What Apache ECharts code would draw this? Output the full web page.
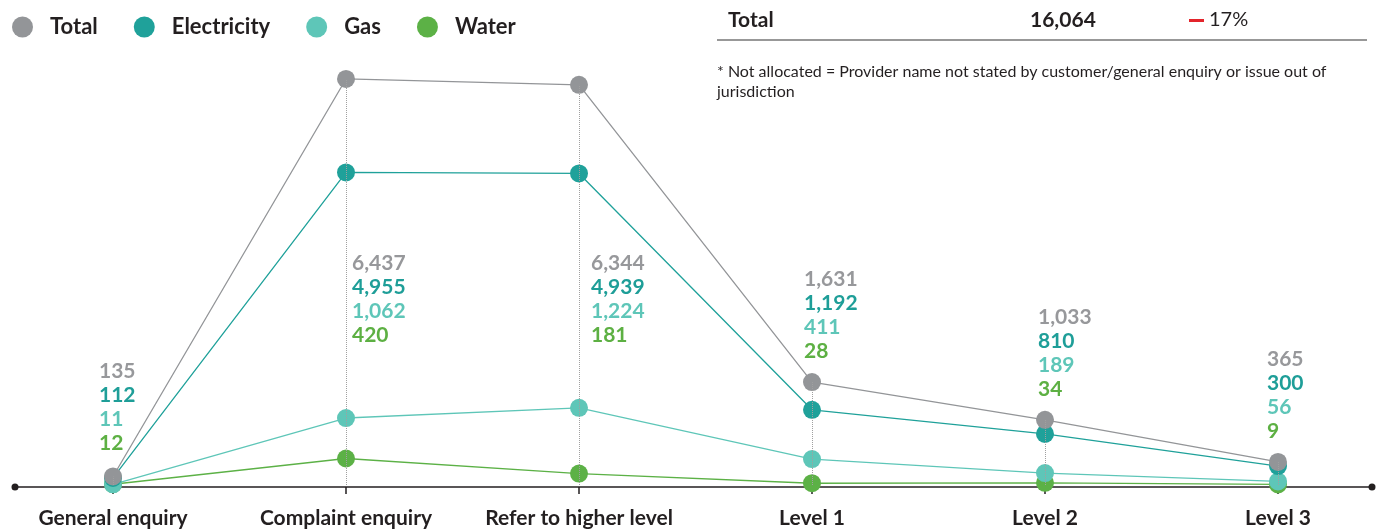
<!DOCTYPE html>
<html>
<head>
<meta charset="utf-8">
<script src="https://cdn.jsdelivr.net/npm/echarts@6/dist/echarts.min.js"></script>
<style>
  html, body { margin: 0; padding: 0; background: #fff; }
  #chart { width: 1382px; height: 529px; }
</style>
</head>
<body>
<div id="chart"></div>
<script>
// categories and values
var categories = ["General enquiry", "Complaint enquiry", "Refer to higher level", "Level 1", "Level 2", "Level 3"];
var total = [135, 6437, 6344, 1631, 1033, 365];
var electricity = [112, 4955, 4939, 1192, 810, 300];
var gas = [11, 1062, 1224, 411, 189, 56];
var water = [12, 420, 181, 28, 34, 9];

var FONT = "Lato";
var INK = "#231f20";
var colors = {
    total: "#939598",
    electricity: "#1fa19a",
    gas: "#5ec6b8",
    water: "#5cb146"
};

// where each value block sits relative to its total point
var labelPlace = [
    { position: "top", distance: 12, offset: [-14, 0] },
    { position: "bottom", distance: 163, offset: [6, 0] },
    { position: "bottom", distance: 157, offset: [12, 0] },
    { position: "top", distance: 10, offset: [-8, 0] },
    { position: "top", distance: 10, offset: [-7, 0] },
    { position: "top", distance: 10, offset: [-11, 0] }
];

function fmt(v) {
    return v.toLocaleString("en-US");
}

var chart = echarts.init(document.getElementById("chart"));

var numStyle = function (c) {
    return { color: c, fontSize: 21, fontWeight: "bold", fontFamily: FONT, lineHeight: 24 };
};

var totalData = total.map(function (v, i) {
    var p = labelPlace[i];
    return {
        value: v,
        label: {
            show: true,
            position: p.position,
            distance: p.distance,
            offset: p.offset,
            align: "left",
            formatter: "{t|" + fmt(total[i]) + "}\n{e|" + fmt(electricity[i]) + "}\n{g|" + fmt(gas[i]) + "}\n{w|" + fmt(water[i]) + "}",
            rich: {
                t: numStyle("#97989b"),
                e: numStyle("#1e9e98"),
                g: numStyle("#5ec6b8"),
                w: numStyle("#5db043")
            }
        }
    };
});

function lineSeries(name, data, color) {
    return {
        name: name,
        type: "line",
        xAxisIndex: 0,
        yAxisIndex: 0,
        data: data,
        symbol: "circle",
        symbolSize: 18,
        itemStyle: { color: color },
        lineStyle: { color: color, width: 1.3 },
        label: { show: false },
        emphasis: { disabled: true },
        z: 3
    };
}

var option = {
    animation: false,
    textStyle: { fontFamily: FONT },
    legend: {
        data: ["Total", "Electricity", "Gas", "Water"],
        left: 7,
        top: 11,
        icon: "circle",
        itemWidth: 21,
        itemHeight: 21,
        itemGap: 36,
        textStyle: {
            color: INK,
            fontSize: 22,
            fontWeight: "bold",
            fontFamily: FONT,
            padding: [0, 0, 0, 12]
        },
        selectedMode: false
    },
    grid: [
        { left: 113, right: 104, top: 75, bottom: 44 },
        { left: 15, right: 10, top: 75, bottom: 42 }
    ],
    xAxis: [
        {
            type: "category",
            gridIndex: 0,
            data: categories,
            boundaryGap: false,
            offset: 2,
            axisLine: { show: false, onZero: false },
            axisTick: { show: true, length: 7, alignWithLabel: true, lineStyle: { color: INK, width: 1.5 } },
            axisLabel: {
                color: INK,
                fontSize: 21,
                fontWeight: "bold",
                fontFamily: FONT,
                margin: 21,
                interval: 0
            },
            splitLine: { show: false }
        },
        {
            type: "value",
            gridIndex: 1,
            min: 0,
            max: 1,
            axisLine: {
                show: true,
                onZero: false,
                symbol: ["circle", "circle"],
                symbolSize: [7, 7],
                lineStyle: { color: INK, width: 1.5 }
            },
            axisTick: { show: false },
            axisLabel: { show: false },
            splitLine: { show: false }
        }
    ],
    yAxis: [
        { type: "value", gridIndex: 0, min: 0, max: 6500, show: false },
        { type: "value", gridIndex: 1, min: 0, max: 1, show: false }
    ],
    series: [
        {
            name: "guide",
            type: "line",
            xAxisIndex: 0,
            yAxisIndex: 0,
            data: total,
            symbol: "none",
            lineStyle: { opacity: 0 },
            silent: true,
            z: 1,
            markLine: {
                silent: true,
                symbol: ["none", "none"],
                label: { show: false },
                lineStyle: { color: "#a0a0a0", type: "dotted", width: 1 },
                data: total.map(function (v, i) {
                    return [{ coord: [i, 0] }, { coord: [i, v] }];
                })
            }
        },
        lineSeries("Water", water, colors.water),
        lineSeries("Gas", gas, colors.gas),
        lineSeries("Electricity", electricity, colors.electricity),
        (function () {
            var s = lineSeries("Total", totalData, colors.total);
            s.label = { show: true };
            return s;
        })()
    ],
    graphic: [
        { type: "text", left: 728, top: 10, style: { text: "Total", fill: INK, font: "bold 21px " + FONT } },
        { type: "text", left: 1030, top: 10, style: { text: "16,064", fill: INK, font: "bold 21px " + FONT } },
        { type: "rect", left: 1189, top: 19, shape: { width: 15, height: 3 }, style: { fill: "#e3242b" } },
        { type: "text", left: 1209, top: 10, style: { text: "17%", fill: INK, font: "normal 20px " + FONT } },
        { type: "line", shape: { x1: 717, y1: 40, x2: 1367, y2: 40 }, style: { stroke: "#333", lineWidth: 1.2 } },
        {
            type: "text",
            left: 717,
            top: 62,
            style: {
                text: "* Not allocated = Provider name not stated by customer/general enquiry or issue out of\njurisdiction",
                fill: INK,
                font: "normal 16px " + FONT,
                lineHeight: 20
            }
        }
    ]
};

chart.setOption(option);
window.addEventListener("resize", chart.resize);
</script>
</body>
</html>
